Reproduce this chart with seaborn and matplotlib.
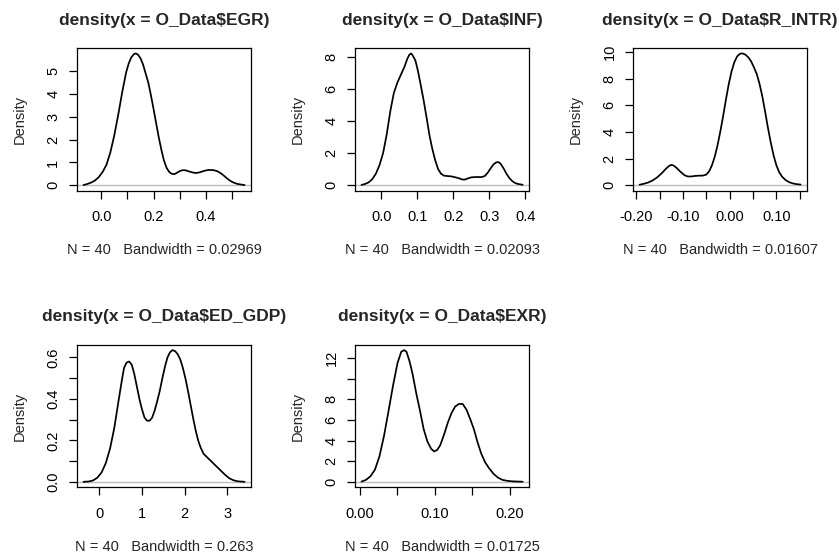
import numpy as np
import pandas as pd
import matplotlib
matplotlib.use("Agg")
import matplotlib.pyplot as plt
import seaborn as sns

# density curves (x, density)
egr_x = [-0.068, -0.055, -0.04, -0.025, -0.01, 0.005, 0.02, 0.035, 0.05, 0.065, 0.08,
         0.095, 0.105, 0.115, 0.125, 0.132, 0.14, 0.15, 0.16, 0.17, 0.18, 0.19, 0.20,
         0.21, 0.22, 0.23, 0.24, 0.25, 0.26, 0.27, 0.28, 0.29, 0.30, 0.31, 0.32, 0.33,
         0.34, 0.35, 0.36, 0.37, 0.38, 0.39, 0.40, 0.41, 0.42, 0.43, 0.44, 0.45, 0.46,
         0.47, 0.48, 0.49, 0.50, 0.51, 0.52, 0.535, 0.548]
egr_y = [0.01, 0.05, 0.11, 0.20, 0.35, 0.58, 0.90, 1.45, 2.20, 3.10, 4.08,
         4.95, 5.35, 5.62, 5.76, 5.79, 5.74, 5.58, 5.30, 4.90, 4.50, 3.95, 3.35,
         2.72, 2.10, 1.55, 1.08, 0.76, 0.58, 0.50, 0.49, 0.55, 0.62, 0.66, 0.66, 0.63,
         0.59, 0.56, 0.54, 0.55, 0.58, 0.62, 0.65, 0.67, 0.67, 0.66, 0.63, 0.58, 0.50,
         0.41, 0.31, 0.22, 0.15, 0.10, 0.06, 0.03, 0.01]

inf_x = [-0.055, -0.045, -0.035, -0.025, -0.015, -0.005, 0.005, 0.015, 0.025, 0.035,
         0.045, 0.055, 0.065, 0.072, 0.078, 0.083, 0.088, 0.095, 0.102, 0.110, 0.118,
         0.126, 0.134, 0.142, 0.150, 0.158, 0.166, 0.174, 0.185, 0.195, 0.205, 0.215,
         0.225, 0.232, 0.240, 0.250, 0.260, 0.270, 0.280, 0.288, 0.296, 0.304, 0.312,
         0.320, 0.326, 0.332, 0.340, 0.348, 0.356, 0.364, 0.372, 0.380, 0.393]
inf_y = [0.02, 0.08, 0.18, 0.38, 0.72, 1.25, 2.00, 3.15, 4.60, 5.75,
         6.40, 6.90, 7.40, 7.85, 8.12, 8.20, 8.05, 7.75, 7.10, 6.20, 5.25,
         4.20, 3.10, 2.25, 1.55, 1.00, 0.72, 0.60, 0.57, 0.55, 0.50, 0.44,
         0.36, 0.35, 0.42, 0.49, 0.51, 0.51, 0.51, 0.58, 0.78, 1.05, 1.30,
         1.43, 1.44, 1.33, 1.05, 0.72, 0.45, 0.26, 0.14, 0.08, 0.03]

rintr_x = [-0.193, -0.185, -0.175, -0.165, -0.155, -0.145, -0.137, -0.130, -0.125, -0.120,
           -0.113, -0.105, -0.097, -0.090, -0.082, -0.074, -0.066, -0.058, -0.050, -0.044,
           -0.038, -0.032, -0.026, -0.020, -0.014, -0.008, -0.002, 0.004, 0.010, 0.016,
           0.022, 0.028, 0.034, 0.040, 0.046, 0.052, 0.058, 0.064, 0.070, 0.076, 0.082,
           0.088, 0.094, 0.100, 0.106, 0.112, 0.120, 0.128, 0.136, 0.144, 0.152]
rintr_y = [0.04, 0.10, 0.20, 0.36, 0.60, 0.92, 1.22, 1.45, 1.53, 1.48,
           1.28, 1.00, 0.76, 0.66, 0.66, 0.70, 0.72, 0.72, 0.80, 1.05,
           1.50, 2.15, 3.00, 4.05, 5.20, 6.45, 7.60, 8.55, 9.25, 9.68,
           9.88, 9.90, 9.80, 9.60, 9.30, 8.85, 8.35, 7.60, 6.65, 5.50, 4.30,
           3.20, 2.25, 1.50, 0.98, 0.65, 0.38, 0.22, 0.13, 0.08, 0.05]

edgdp_x = [-0.374, -0.25, -0.15, -0.05, 0.05, 0.15, 0.25, 0.35, 0.45, 0.52, 0.58, 0.64,
           0.70, 0.76, 0.82, 0.88, 0.94, 1.00, 1.06, 1.12, 1.18, 1.24, 1.30, 1.36, 1.42,
           1.48, 1.54, 1.60, 1.66, 1.72, 1.78, 1.84, 1.90, 1.96, 2.02, 2.08, 2.14, 2.20,
           2.26, 2.32, 2.38, 2.45, 2.55, 2.65, 2.75, 2.85, 2.95, 3.05, 3.15, 3.25, 3.411]
edgdp_y = [0.0005, 0.002, 0.007, 0.02, 0.045, 0.09, 0.16, 0.26, 0.39, 0.48, 0.55, 0.575,
           0.58, 0.565, 0.52, 0.46, 0.40, 0.35, 0.31, 0.295, 0.295, 0.31, 0.345, 0.39, 0.44,
           0.50, 0.555, 0.60, 0.625, 0.635, 0.63, 0.615, 0.59, 0.55, 0.50, 0.44, 0.375, 0.31,
           0.25, 0.20, 0.165, 0.135, 0.115, 0.095, 0.075, 0.055, 0.035, 0.018, 0.008, 0.003,
           0.0005]

exr_x = [0.002, 0.008, 0.014, 0.020, 0.026, 0.032, 0.038, 0.044, 0.050, 0.055, 0.059,
         0.062, 0.066, 0.070, 0.075, 0.080, 0.085, 0.090, 0.095, 0.099, 0.103, 0.107,
         0.112, 0.117, 0.122, 0.127, 0.132, 0.137, 0.142, 0.147, 0.152, 0.157, 0.162,
         0.167, 0.172, 0.178, 0.184, 0.190, 0.197, 0.205, 0.217]
exr_y = [0.03, 0.20, 0.55, 1.20, 2.50, 4.45, 6.85, 9.30, 11.50, 12.60, 12.76,
         12.60, 11.70, 10.50, 8.60, 6.90, 5.10, 3.90, 3.20, 2.95, 3.10, 3.55,
         4.55, 5.70, 6.65, 7.30, 7.55, 7.55, 7.00, 6.10, 5.10, 3.80, 2.70,
         1.90, 1.35, 0.80, 0.42, 0.20, 0.10, 0.05, 0.02]

titles = ["density(x = O_Data\\$EGR)", "density(x = O_Data\\$INF)",
          "density(x = O_Data\\$R_INTR)", "density(x = O_Data\\$ED_GDP)",
          "density(x = O_Data\\$EXR)"]
subtitles = ["N = 40   Bandwidth = 0.02969", "N = 40   Bandwidth = 0.02093",
             "N = 40   Bandwidth = 0.01607", "N = 40   Bandwidth = 0.263",
             "N = 40   Bandwidth = 0.01725"]

# tick positions and the labels R managed to fit
xticks = [[0.0, 0.1, 0.2, 0.3, 0.4, 0.5],
          [0.0, 0.1, 0.2, 0.3, 0.4],
          [-0.20, -0.15, -0.10, -0.05, 0.00, 0.05, 0.10, 0.15],
          [0, 1, 2, 3],
          [0.00, 0.05, 0.10, 0.15, 0.20]]
xlabels = [["0.0", "", "0.2", "", "0.4", ""],
           ["0.0", "0.1", "0.2", "0.3", "0.4"],
           ["-0.20", "", "-0.10", "", "0.00", "", "0.10", ""],
           ["0", "1", "2", "3"],
           ["0.00", "", "0.10", "", "0.20"]]
yticks = [[0, 1, 2, 3, 4, 5],
          [0, 2, 4, 6, 8],
          [0, 2, 4, 6, 8, 10],
          [0.0, 0.1, 0.2, 0.3, 0.4, 0.5, 0.6],
          [0, 2, 4, 6, 8, 10, 12]]
ylabels = [["0", "1", "2", "3", "4", "5"],
           ["0", "2", "4", "6", "8"],
           ["0", "2", "4", "6", "8", "10"],
           ["0.0", "", "0.2", "", "0.4", "", "0.6"],
           ["0", "2", "4", "6", "8", "", "12"]]

curves = [(egr_x, egr_y), (inf_x, inf_y), (rintr_x, rintr_y),
          (edgdp_x, edgdp_y), (exr_x, exr_y)]

sns.set_theme(style="ticks")
plt.rcParams['font.family'] = ['Liberation Sans', 'DejaVu Sans']
plt.rcParams['axes.linewidth'] = 0.9
plt.rcParams['axes.edgecolor'] = 'black'

fig, axes = plt.subplots(2, 3, figsize=(8.39, 5.6), dpi=100)
fig.subplots_adjust(left=0.0918, right=0.962, top=0.914, bottom=0.130,
                    wspace=0.598, hspace=1.084)
axes = axes.flatten()

for i, (xs, ys) in enumerate(curves):
    ax = axes[i]
    df = pd.DataFrame({"x": xs, "y": ys})
    ax.axhline(0, color='#BEBEBE', lw=1.0, zorder=1)
    sns.lineplot(data=df, x="x", y="y", ax=ax, color='black', lw=1.25,
                 sort=False, zorder=2)
    ax.margins(x=0.04, y=0.04)
    ax.set_xticks(xticks[i])
    ax.set_xticklabels(xlabels[i])
    ax.set_yticks(yticks[i])
    ax.set_yticklabels(ylabels[i], rotation=90, va='center')
    ax.tick_params(axis='both', length=6, width=0.9, color='black',
                   labelsize=10.5, labelcolor='black', pad=6)
    ax.tick_params(axis='x', pad=8)
    for s in ax.spines.values():
        s.set_visible(True)
        s.set_color('black')
    ax.set_title(titles[i], fontsize=12.5, fontweight='bold', pad=17)
    ax.set_xlabel(subtitles[i], fontsize=10.5, labelpad=14)
    ax.set_ylabel("Density", fontsize=10.5, labelpad=14)

axes[5].set_visible(False)

fig.savefig("out.png", dpi=100, facecolor='white')
